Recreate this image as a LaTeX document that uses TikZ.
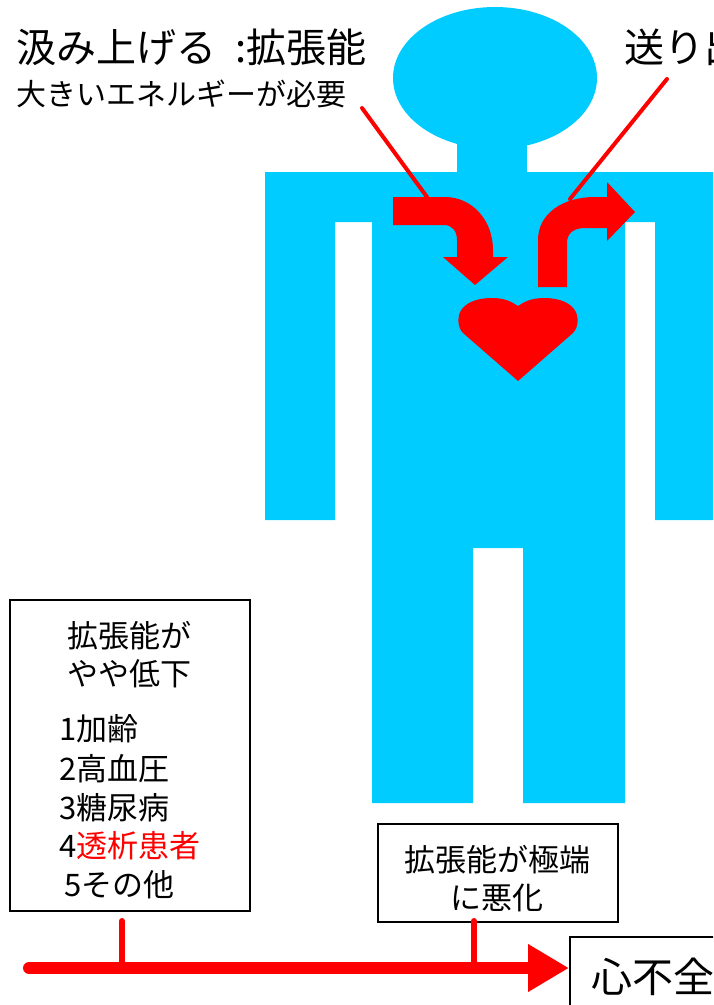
\documentclass[tikz,border=0pt]{standalone}
\usepackage{fontspec}
\setmainfont{Noto Sans CJK JP}
\usetikzlibrary{arrows.meta}
\definecolor{bodyblue}{HTML}{00CCFF}
\definecolor{hred}{HTML}{FF0000}

\begin{document}
\begin{tikzpicture}[x=1pt,y=-1pt,
  bigtxt/.style={inner sep=0pt, anchor=west, font=\fontsize{40}{48}\selectfont},
  subtxt/.style={inner sep=0pt, anchor=west, font=\fontsize{30}{36}\selectfont},
  boxtxt/.style={inner sep=0pt, font=\fontsize{31}{38}\selectfont},
  framebox/.style={draw=black, line width=1.6pt, inner sep=0pt, outer sep=0pt},
  pointer/.style={draw=hred, line width=4pt, line cap=round},
  tick/.style={draw=hred, line width=6pt, line cap=round},
  timeline/.style={draw=hred, line width=12pt, line cap=round,
    -{Triangle[length=41pt,width=45pt]}, shorten >=1pt},
]
\useasboundingbox (0,0) rectangle (713,1005);
\clip (0,0) rectangle (713,1005);

% human silhouette
\fill[bodyblue] (495,78) ellipse [x radius=102pt, y radius=71pt];
\fill[bodyblue] (457,130) rectangle (527,180);
\fill[bodyblue] (265,172) -- (720,172) -- (720,520) -- (655,520) -- (655,222)
  -- (625,222) -- (625,803) -- (523,803) -- (523,548) -- (473,548) -- (473,803)
  -- (372,803) -- (372,222) -- (335,222) -- (335,520) -- (265,520) -- cycle;

% inflow arrow (bent down into the heart)
\fill[hred] (393,197) -- (445,197) .. controls (472,197) and (493,220) .. (493,250)
  -- (493,257) -- (508,257) -- (475,285) -- (443,257) -- (457,257) -- (457,240)
  .. controls (457,231) and (452,225) .. (444,225) -- (393,225) -- cycle;

% outflow arrow (up and out of the heart)
\fill[hred] (538,287) -- (538,240) .. controls (538,214) and (562,197) .. (595,197)
  -- (607,197) -- (607,182) -- (635,212) -- (607,241) -- (607,228) -- (585,228)
  .. controls (574,228) and (567,233) .. (567,243) -- (567,287) -- cycle;

% heart
\fill[hred] (518,381) -- (463,333) .. controls (457,327) and (457,315) .. (462,309)
  .. controls (468,301) and (480,298) .. (492,298)
  .. controls (505,298) and (512,302) .. (518,306)
  .. controls (524,302) and (531,298) .. (544,298)
  .. controls (556,298) and (568,301) .. (574,309)
  .. controls (579,315) and (579,327) .. (573,333) -- cycle;

% headings
\node[bigtxt] (pump) at (16,47) {汲み上げる\hspace{10pt} :拡張能};
\node[subtxt] (energy) at (16,94) {大きいエネルギーが必要};
\node[bigtxt] (send) at (624,47) {送り出};

% pointer lines
\coordinate (p1a) at (362,108);
\coordinate (p1b) at (427,197);
\coordinate (p2a) at (667,79);
\coordinate (p2b) at (570,199);
\draw[pointer] (p1a) -- (p1b);
\draw[pointer] (p2a) -- (p2b);

% left box: mild decline and causes
\node[framebox, minimum width=240pt, minimum height=311pt] (lbox) at (130,755.5) {};
\node[boxtxt] (l1) at (129,636) {拡張能が};
\node[boxtxt] (l2) at (129,674) {やや低下};
\node[boxtxt, anchor=west] (i1) at (59,729) {1加齢};
\node[boxtxt, anchor=west] (i2) at (59,769) {2高血圧};
\node[boxtxt, anchor=west] (i3) at (59,808) {3糖尿病};
\node[boxtxt, anchor=west] (i4) at (59,846) {4\textcolor{hred}{透析患者}};
\node[boxtxt, anchor=west] (i5) at (64,885) {5その他};

% middle box: severe decline
\node[framebox, minimum width=240pt, minimum height=98pt] (mbox) at (498,873) {};
\node[boxtxt, align=center] (mtxt) at (497,879) {拡張能が極端\\に悪化};

% end box
\node[framebox, anchor=north west, minimum height=80pt, inner xsep=21pt,
  font=\fontsize{41}{48}\selectfont] (hf) at (570,937) {心不全};

% timeline
\coordinate (tl0) at (29,968);
\draw[timeline] (tl0) -- (tl0 -| hf.west);
\coordinate (k1) at (122,921);
\coordinate (k2) at (474,921);
\draw[tick] (k1) -- (k1 |- tl0);
\draw[tick] (k2) -- (k2 |- tl0);
\end{tikzpicture}
\end{document}
